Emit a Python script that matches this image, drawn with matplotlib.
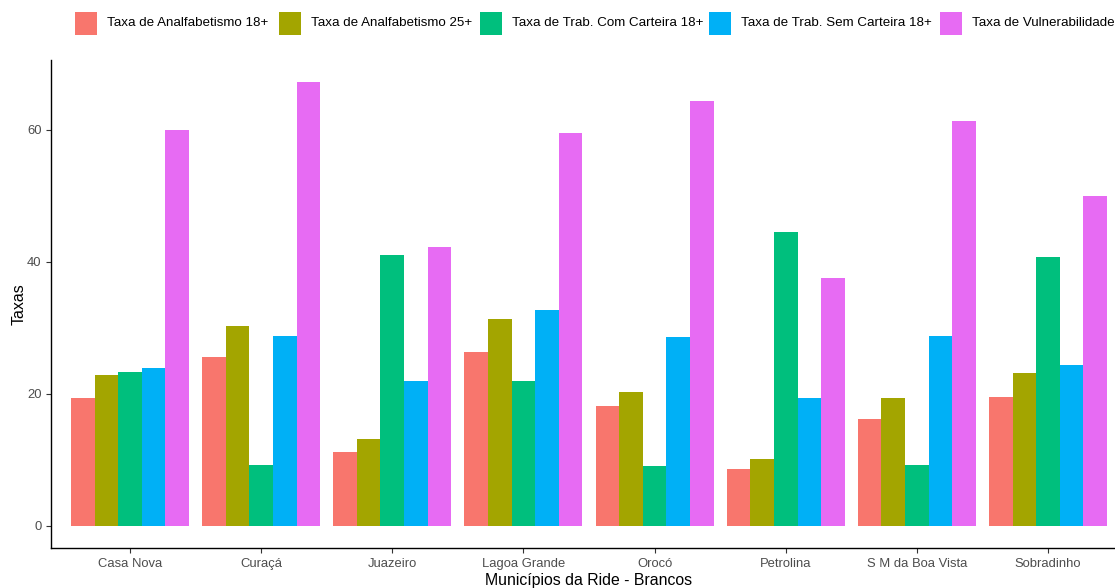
import matplotlib
matplotlib.use("Agg")
import matplotlib.pyplot as plt
import numpy as np
from matplotlib.patches import Rectangle

plt.rcParams['font.family'] = ['Liberation Sans', 'DejaVu Sans']

municipios = ["Casa Nova", "Curaçá", "Juazeiro", "Lagoa Grande", "Orocó",
              "Petrolina", "S M da Boa Vista", "Sobradinho"]
series_names = ["Taxa de Analfabetismo 18+", "Taxa de Analfabetismo 25+",
                "Taxa de Trab. Com Carteira 18+", "Taxa de Trab. Sem Carteira 18+",
                "Taxa de Vulnerabilidade"]
analf_18 = [19.3, 25.6, 11.2, 26.4, 18.2, 8.6, 16.2, 19.5]
analf_25 = [22.8, 30.3, 13.2, 31.4, 20.3, 10.2, 19.3, 23.1]
com_carteira = [23.3, 9.2, 41.1, 22.0, 9.1, 44.5, 9.2, 40.8]
sem_carteira = [23.9, 28.7, 22.0, 32.7, 28.6, 19.3, 28.7, 24.4]
vulnerab = [60.0, 67.2, 42.3, 59.6, 64.4, 37.6, 61.4, 50.0]
yticks = [0, 20, 40, 60]

colors = ["#F8766D", "#A3A500", "#00BF7D", "#00B0F6", "#E76BF3"]
series = [analf_18, analf_25, com_carteira, sem_carteira, vulnerab]

W, H = 1115, 588
fig = plt.figure(figsize=(W / 100, H / 100), dpi=100)
left_px, right_px, bot_px, top_px = 51.3, 1126.7, 548, 60.3
ax = fig.add_axes([left_px / W, 1 - bot_px / H, (right_px - left_px) / W,
                   (bot_px - top_px) / H])

x = np.arange(1, len(municipios) + 1)
n = len(series)
bw = 0.9 / n
for i, (vals, c) in enumerate(zip(series, colors)):
    offs = -0.45 + bw * (i + 0.5)
    ax.bar(x + offs, vals, width=bw, color=c, linewidth=0, label=series_names[i])

ymax = max(max(s) for s in series)
ax.set_xlim(0.4, len(municipios) + 0.6)
ax.set_ylim(-0.05 * ymax, ymax * 1.05)
ax.set_xticks(x)
ax.set_xticklabels(municipios)
ax.set_yticks(yticks)
ax.tick_params(axis='both', colors='#333333', length=3.5, width=0.8,
               labelcolor='#4D4D4D', labelsize=9.4)
ax.tick_params(axis='x', pad=4)
for s in ['top', 'right']:
    ax.spines[s].set_visible(False)
for s in ['left', 'bottom']:
    ax.spines[s].set_linewidth(1.0)
    ax.spines[s].set_color('black')

ax.set_ylabel("Taxas", fontsize=11.5, color='black', labelpad=0.6)
ax.set_xlabel("Municípios da Ride - Brancos", fontsize=11.4, color='black', labelpad=2)

# legend row across the top
key_x = [75, 279, 480, 709, 940]
key_w, key_h = 22, 23
key_top = 12
for kx, c, name in zip(key_x, colors, series_names):
    fig.patches.append(Rectangle((kx / W, 1 - (key_top + key_h) / H), key_w / W, key_h / H,
                                 transform=fig.transFigure, facecolor=c, edgecolor='none'))
    fig.text((kx + key_w + 10) / W, 1 - (key_top + key_h / 2) / H, name,
             fontsize=9.6, va='center', ha='left', color='black')

fig.savefig("out.png", dpi=100)
